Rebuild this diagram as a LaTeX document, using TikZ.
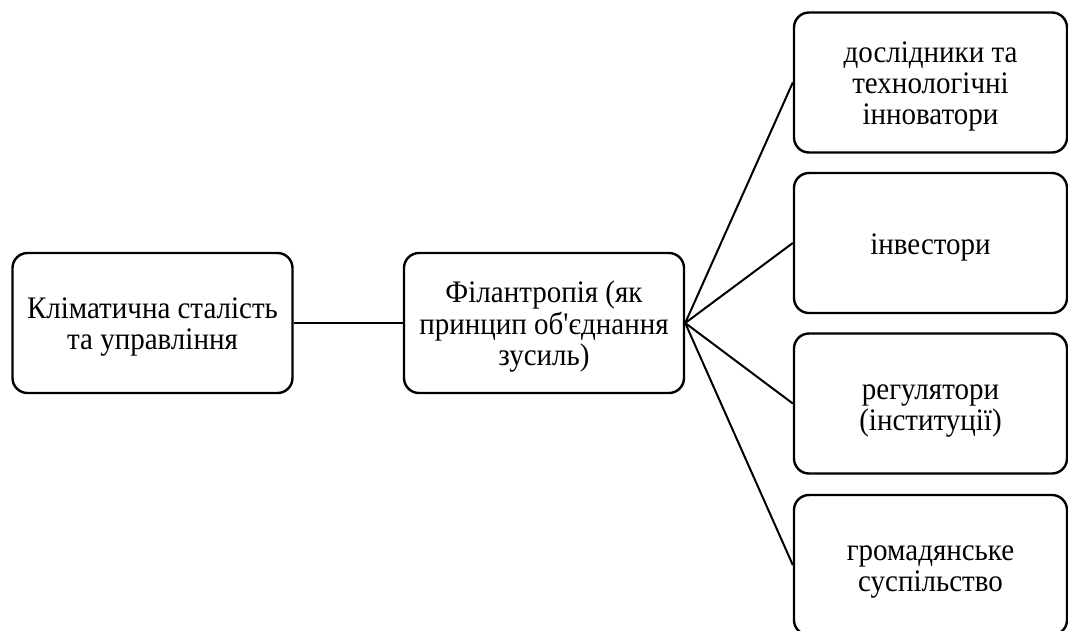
\documentclass[tikz,border=0pt]{standalone}
\usepackage{fontspec}
\usepackage{graphicx}
\setmainfont{Liberation Serif}[Ligatures=TeXOff]
% centred lines, stretched slightly upright and set a little low in the box
\newcommand\boxlines[1]{\raisebox{-5pt}[\height][\depth]{\scalebox{1}[1.08]{\begin{tabular}{@{}c@{}}#1\end{tabular}}}}
\begin{document}
\begin{tikzpicture}[x=1pt,y=-1pt,
  box/.style={draw=black, line width=2.4pt, rounded corners=15pt, fill=white,
    minimum width=#1, minimum height=140pt, align=center, inner sep=4pt,
    font=\fontsize{29}{28.7}\selectfont},
  box/.default=280pt,
  link/.style={draw=black, line width=2pt}]
  \clip (0,0) rectangle (1068,630);
  \fill[white] (0,0) rectangle (1068,630);

  % source and hub
  \node[box] (clim) at (152.5,323) {\boxlines{Кліматична сталість\\та управління}};
  \node[box] (phil) at (544,323) {\boxlines{Філантропія (як\\принцип об'єднання\\зусиль)}};

  % stakeholder column
  \node[box=273pt] (res) at (930.5,82.5) {\boxlines{дослідники та\\технологічні\\інноватори}};
  \node[box=273pt] (inv) at (930.5,243) {\boxlines{інвестори}};
  \node[box=273pt] (reg) at (930.5,403.5) {\boxlines{регулятори\\(інституції)}};
  \node[box=273pt] (civ) at (930.5,565) {\boxlines{громадянське\\суспільство}};

  \draw[link] (clim.east) -- (phil.west);
  \foreach \t in {res,inv,reg,civ}
    \draw[link] (phil.east) -- (\t.west);
\end{tikzpicture}
\end{document}
